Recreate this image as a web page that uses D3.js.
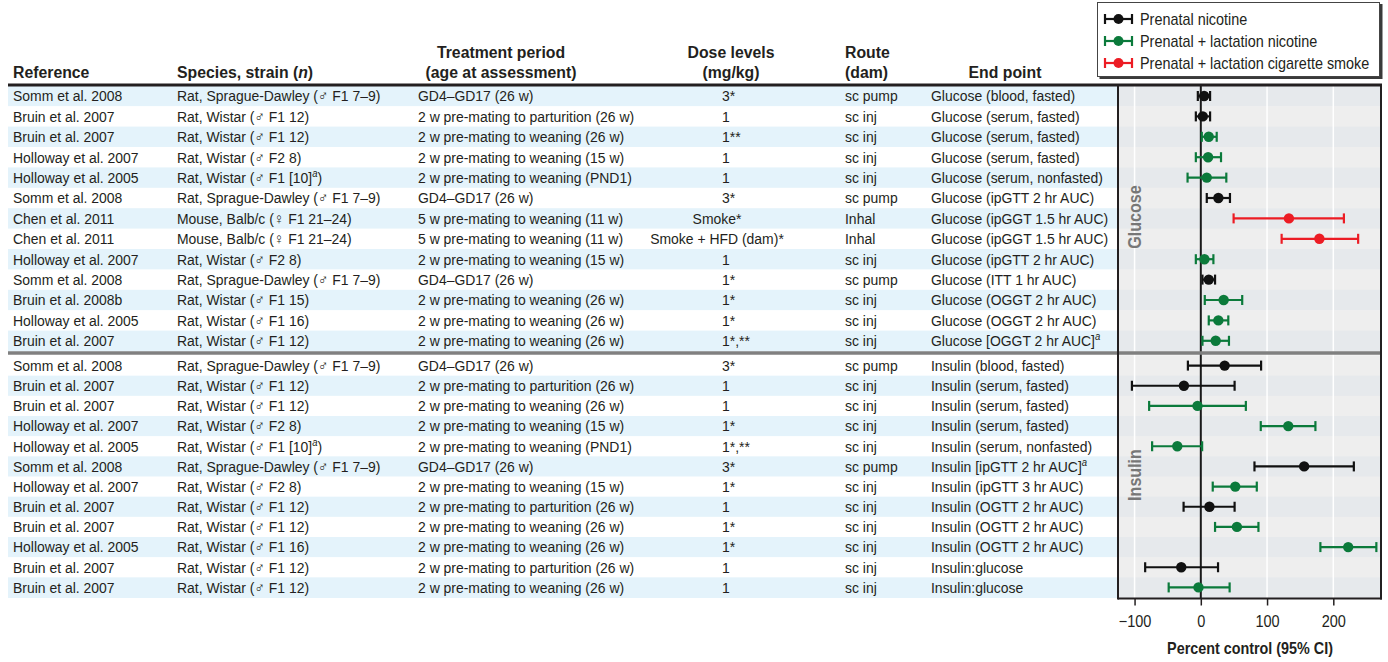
<!DOCTYPE html>
<html>
<head>
<meta charset="utf-8">
<script src="https://cdn.jsdelivr.net/npm/d3@7"></script>
<style>
  html, body { margin: 0; padding: 0; background: #fff; }
  svg { display: block; font-family: "Liberation Sans", Arial, "DejaVu Sans", sans-serif; }
</style>
</head>
<body>
<svg id="chart" width="1388" height="662"></svg>
<script>
// ---- Study table (13 glucose rows followed by 12 insulin rows) ----
const references = [
  "Somm et al. 2008", "Bruin et al. 2007", "Bruin et al. 2007", "Holloway et al. 2007", "Holloway et al. 2005",
  "Somm et al. 2008", "Chen et al. 2011", "Chen et al. 2011", "Holloway et al. 2007", "Somm et al. 2008",
  "Bruin et al. 2008b", "Holloway et al. 2005", "Bruin et al. 2007",
  "Somm et al. 2008", "Bruin et al. 2007", "Bruin et al. 2007", "Holloway et al. 2007", "Holloway et al. 2005",
  "Somm et al. 2008", "Holloway et al. 2007", "Bruin et al. 2007", "Bruin et al. 2007", "Holloway et al. 2005",
  "Bruin et al. 2007", "Bruin et al. 2007"
];
const species = [
  "Rat, Sprague-Dawley (♂ F1 7–9)", "Rat, Wistar (♂ F1 12)", "Rat, Wistar (♂ F1 12)", "Rat, Wistar (♂ F2 8)",
  "Rat, Wistar (♂ F1 [10]^a)", "Rat, Sprague-Dawley (♂ F1 7–9)", "Mouse, Balb/c (♀ F1 21–24)",
  "Mouse, Balb/c (♀ F1 21–24)", "Rat, Wistar (♂ F2 8)", "Rat, Sprague-Dawley (♂ F1 7–9)",
  "Rat, Wistar (♂ F1 15)", "Rat, Wistar (♂ F1 16)", "Rat, Wistar (♂ F1 12)",
  "Rat, Sprague-Dawley (♂ F1 7–9)", "Rat, Wistar (♂ F1 12)", "Rat, Wistar (♂ F1 12)", "Rat, Wistar (♂ F2 8)",
  "Rat, Wistar (♂ F1 [10]^a)", "Rat, Sprague-Dawley (♂ F1 7–9)", "Rat, Wistar (♂ F2 8)",
  "Rat, Wistar (♂ F1 12)", "Rat, Wistar (♂ F1 12)", "Rat, Wistar (♂ F1 16)", "Rat, Wistar (♂ F1 12)",
  "Rat, Wistar (♂ F1 12)"
];
const periods = [
  "GD4–GD17 (26 w)", "2 w pre-mating to parturition (26 w)", "2 w pre-mating to weaning (26 w)",
  "2 w pre-mating to weaning (15 w)", "2 w pre-mating to weaning (PND1)", "GD4–GD17 (26 w)",
  "5 w pre-mating to weaning (11 w)", "5 w pre-mating to weaning (11 w)", "2 w pre-mating to weaning (15 w)",
  "GD4–GD17 (26 w)", "2 w pre-mating to weaning (26 w)", "2 w pre-mating to weaning (26 w)",
  "2 w pre-mating to weaning (26 w)",
  "GD4–GD17 (26 w)", "2 w pre-mating to parturition (26 w)", "2 w pre-mating to weaning (26 w)",
  "2 w pre-mating to weaning (15 w)", "2 w pre-mating to weaning (PND1)", "GD4–GD17 (26 w)",
  "2 w pre-mating to weaning (15 w)", "2 w pre-mating to parturition (26 w)", "2 w pre-mating to weaning (26 w)",
  "2 w pre-mating to weaning (26 w)", "2 w pre-mating to parturition (26 w)", "2 w pre-mating to weaning (26 w)"
];
const doses = [
  "3*", "1", "1**", "1", "1", "3*", "Smoke*", "Smoke + HFD (dam)*", "1", "1*", "1*", "1*", "1*,**",
  "3*", "1", "1", "1*", "1*,**", "3*", "1*", "1", "1*", "1*", "1", "1"
];
const routes = [
  "sc pump", "sc inj", "sc inj", "sc inj", "sc inj", "sc pump", "Inhal", "Inhal", "sc inj", "sc pump",
  "sc inj", "sc inj", "sc inj",
  "sc pump", "sc inj", "sc inj", "sc inj", "sc inj", "sc pump", "sc inj", "sc inj", "sc inj", "sc inj",
  "sc inj", "sc inj"
];
const endpoints = [
  "Glucose (blood, fasted)", "Glucose (serum, fasted)", "Glucose (serum, fasted)", "Glucose (serum, fasted)",
  "Glucose (serum, nonfasted)", "Glucose (ipGTT 2 hr AUC)", "Glucose (ipGGT 1.5 hr AUC)",
  "Glucose (ipGGT 1.5 hr AUC)", "Glucose (ipGTT 2 hr AUC)", "Glucose (ITT 1 hr AUC)",
  "Glucose (OGGT 2 hr AUC)", "Glucose (OGGT 2 hr AUC)", "Glucose [OGGT 2 hr AUC]^a",
  "Insulin (blood, fasted)", "Insulin (serum, fasted)", "Insulin (serum, fasted)", "Insulin (serum, fasted)",
  "Insulin (serum, nonfasted)", "Insulin [ipGTT 2 hr AUC]^a", "Insulin (ipGTT 3 hr AUC)",
  "Insulin (OGTT 2 hr AUC)", "Insulin (OGTT 2 hr AUC)", "Insulin (OGTT 2 hr AUC)", "Insulin:glucose",
  "Insulin:glucose"
];
// exposure: P = prenatal nicotine, L = prenatal + lactation nicotine, S = prenatal + lactation smoke
const exposures = [
  "P", "P", "L", "L", "L", "P", "S", "S", "L", "P", "L", "L", "L",
  "P", "P", "L", "L", "L", "P", "L", "P", "L", "L", "P", "L"
];
// ---- Percent of control with 95% CI ----
const estimates = [
  5, 3, 12, 11, 9, 26.5, 133, 179, 5.5, 12, 34.5, 26.5, 22.5,
  36, -25.5, -5, 132, -35.5, 156, 52, 13, 54.5, 222.5, -29.5, -3.5
];
const ciLow = [
  -4.5, -7.5, 1.5, -7.5, -20, 9, 49.5, 122, -7.5, 2.5, 6, 12, 2.5,
  -19.5, -104, -78, 90.5, -73.5, 81, 18, -26, 21.5, 180.5, -84, -48.5
];
const ciHigh = [
  14, 14, 24, 30.5, 38.5, 44, 216, 237.5, 19, 21.5, 62.5, 41.5, 42.5,
  91, 51, 68, 173, 2, 231, 84.5, 51, 87, 265, 26, 43.5
];
const groups = ["Glucose", "Insulin"];
const groupSizes = [13, 12];
const xTicks = [-100, 0, 100, 200];
const legendLabels = ["Prenatal nicotine", "Prenatal + lactation nicotine", "Prenatal + lactation cigarette smoke"];
const legendKeys = ["P", "L", "S"];

// ---- Styling ----
const colors = { P: "#111111", L: "#0b7a3b", S: "#ec1c24" };
const ink = "#231f20";
const SX = 0.9;            // horizontal squeeze for the narrow type
const BODY = 15.5;

const svg = d3.select("#chart");

// Text with simple markup: ^a -> italic superscript, ~x~ -> italic
function richText(parent, x, y, str, o = {}) {
  const size = o.size || BODY;
  const t = parent.append("text")
    .attr("transform", `translate(${x},${y}) scale(${o.sx || SX},1)`)
    .attr("text-anchor", o.anchor || "start")
    .attr("fill", o.fill || ink)
    .style("font-size", size + "px")
    .style("font-weight", o.weight || 400);
  const parts = str.split(/(\^[a-z]|~[^~]+~)/).filter(s => s.length);
  let raised = false;
  parts.forEach(p => {
    if (p[0] === "^") {
      t.append("tspan").attr("dy", -size * 0.38).style("font-size", (size * 0.68) + "px")
        .style("font-style", "italic").text(p.slice(1));
      raised = true;
    } else {
      const sp = t.append("tspan");
      if (raised) { sp.attr("dy", size * 0.38); raised = false; }
      if (p[0] === "~") sp.style("font-style", "italic").text(p.slice(1, -1));
      else sp.text(p);
    }
  });
  return t;
}

// ---- Geometry ----
const tableLeft = 8, panelLeft = 1118, panelRight = 1381;
const x = d3.scaleLinear().domain([-125, 272]).range([panelLeft, panelRight]);
const bandScales = [
  d3.scaleBand().domain(d3.range(groupSizes[0])).range([85.8, 351]),
  d3.scaleBand().domain(d3.range(groupSizes[1])).range([355.5, 597.5])
];
const panelTop = 85.8, panelBottom = 598.5;

const rows = references.map((r, i) => {
  const g = i < groupSizes[0] ? 0 : 1;
  const k = g === 0 ? i : i - groupSizes[0];
  const band = bandScales[g];
  return {
    i, g, ref: r, species: species[i], period: periods[i], dose: doses[i], route: routes[i],
    endpoint: endpoints[i], exp: exposures[i], est: estimates[i], lo: ciLow[i], hi: ciHigh[i],
    y0: band(k), h: band.bandwidth(), cy: band(k) + band.bandwidth() / 2
  };
});

// ---- Row bands ----
svg.append("g").selectAll("rect").data(rows).join("rect")
  .attr("x", tableLeft).attr("width", panelLeft - tableLeft)
  .attr("y", d => d.y0).attr("height", d => d.h + 0.5)
  .attr("fill", d => d.i % 2 === 0 ? "#e4f3fb" : "#ffffff");
svg.append("g").selectAll("rect").data(rows).join("rect")
  .attr("x", panelLeft).attr("width", panelRight - panelLeft)
  .attr("y", d => d.y0).attr("height", d => d.h + 0.5)
  .attr("fill", d => d.i % 2 === 0 ? "#e6e9ec" : "#eeeeee");
// gap under the separator
svg.append("rect").attr("x", panelLeft).attr("width", panelRight - panelLeft)
  .attr("y", 351).attr("height", 4.5).attr("fill", "#eeeeee");

// ---- Grid lines ----
svg.append("g").selectAll("line").data(xTicks.filter(v => v !== 0)).join("line")
  .attr("x1", d => x(d)).attr("x2", d => x(d))
  .attr("y1", panelTop).attr("y2", panelBottom)
  .attr("stroke", "#ffffff").attr("stroke-width", 1.5);

// ---- Group labels in the panel ----
groups.forEach((name, g) => {
  const cy = g === 0 ? 217 : 475;
  svg.append("text")
    .attr("transform", `translate(1141,${cy}) rotate(-90) scale(0.92,1)`)
    .attr("text-anchor", "middle")
    .attr("fill", "#777777")
    .style("font-size", "17.5px").style("font-weight", 700)
    .text(name);
});

// ---- Zero line ----
svg.append("line")
  .attr("x1", x(0)).attr("x2", x(0)).attr("y1", panelTop).attr("y2", panelBottom)
  .attr("stroke", "#1a1a1a").attr("stroke-width", 2);

// ---- Error bars and points ----
const marks = svg.append("g").selectAll("g").data(rows).join("g")
  .attr("stroke", d => colors[d.exp]).attr("fill", d => colors[d.exp]);
marks.append("line")
  .attr("x1", d => x(d.lo)).attr("x2", d => x(d.hi))
  .attr("y1", d => d.cy).attr("y2", d => d.cy).attr("stroke-width", 2.2);
marks.append("line")
  .attr("x1", d => x(d.lo)).attr("x2", d => x(d.lo))
  .attr("y1", d => d.cy - 5).attr("y2", d => d.cy + 5).attr("stroke-width", 2.2);
marks.append("line")
  .attr("x1", d => x(d.hi)).attr("x2", d => x(d.hi))
  .attr("y1", d => d.cy - 5).attr("y2", d => d.cy + 5).attr("stroke-width", 2.2);
marks.append("circle")
  .attr("cx", d => x(d.est)).attr("cy", d => d.cy).attr("r", 5.2).attr("stroke", "none");

// ---- Table text ----
const tbl = svg.append("g");
rows.forEach(d => {
  const by = d.cy + 5.3;
  richText(tbl, 13, by, d.ref);
  richText(tbl, 177, by, d.species);
  richText(tbl, 418, by, d.period);
  if (/^\d/.test(d.dose)) richText(tbl, 722, by, d.dose);
  else richText(tbl, 717, by, d.dose, { anchor: "middle" });
  richText(tbl, 845, by, d.route);
  richText(tbl, 931, by, d.endpoint);
});

// ---- Header ----
const hd = { size: 17, weight: 700, sx: 0.93 };
richText(svg, 13, 78, "Reference", hd);
richText(svg, 177, 78, "Species, strain (~n~)", hd);
richText(svg, 501, 58, "Treatment period", { ...hd, anchor: "middle" });
richText(svg, 501, 78, "(age at assessment)", { ...hd, anchor: "middle" });
richText(svg, 731, 58, "Dose levels", { ...hd, anchor: "middle" });
richText(svg, 731, 78, "(mg/kg)", { ...hd, anchor: "middle" });
richText(svg, 845, 58, "Route", hd);
richText(svg, 845, 78, "(dam)", hd);
richText(svg, 1005, 78, "End point", { ...hd, anchor: "middle" });

// ---- Rules and panel frame ----
svg.append("line").attr("x1", tableLeft).attr("x2", panelRight + 1)
  .attr("y1", 85).attr("y2", 85).attr("stroke", ink).attr("stroke-width", 3);
svg.append("line").attr("x1", tableLeft).attr("x2", panelRight + 1)
  .attr("y1", 353).attr("y2", 353).attr("stroke", "#808080").attr("stroke-width", 3.5);
svg.append("line").attr("x1", panelLeft).attr("x2", panelLeft)
  .attr("y1", 84).attr("y2", panelBottom + 1).attr("stroke", ink).attr("stroke-width", 2);
svg.append("line").attr("x1", panelRight).attr("x2", panelRight)
  .attr("y1", 84).attr("y2", panelBottom + 1).attr("stroke", ink).attr("stroke-width", 2);
svg.append("line").attr("x1", panelLeft).attr("x2", panelRight + 1)
  .attr("y1", panelBottom).attr("y2", panelBottom).attr("stroke", ink).attr("stroke-width", 2);

// ---- X axis ----
const axis = svg.append("g").attr("transform", `translate(0,${panelBottom})`)
  .call(d3.axisBottom(x).tickValues(xTicks).tickSize(7).tickPadding(10)
    .tickFormat(v => v < 0 ? "\u2212" + Math.abs(v) : String(v)));
axis.select(".domain").remove();
axis.selectAll(".tick line").attr("stroke", ink).attr("stroke-width", 1.5);
axis.selectAll(".tick text")
  .attr("fill", ink)
  .attr("transform", "scale(0.88,1)")
  .style("font-size", "16.5px")
  .style("font-family", "'Liberation Sans', Arial, sans-serif");
richText(svg, 1250, 654, "Percent control (95% CI)", { size: 16.5, weight: 700, sx: 0.87, anchor: "middle" });

// ---- Legend ----
const lg = svg.append("g");
lg.append("rect").attr("x", 1099.5).attr("y", 4).attr("width", 283).attr("height", 75).attr("fill", "#3a3a3a");
lg.append("rect").attr("x", 1097.5).attr("y", 2.5).attr("width", 282).attr("height", 74)
  .attr("fill", "#ffffff").attr("stroke", "#444").attr("stroke-width", 1);
legendKeys.forEach((k, j) => {
  const cy = 19 + j * 22;
  const c = colors[k];
  const s = lg.append("g").attr("stroke", c).attr("fill", c);
  s.append("line").attr("x1", 1105).attr("x2", 1132).attr("y1", cy).attr("y2", cy).attr("stroke-width", 2.2);
  s.append("line").attr("x1", 1105).attr("x2", 1105).attr("y1", cy - 5).attr("y2", cy + 5).attr("stroke-width", 2.2);
  s.append("line").attr("x1", 1132).attr("x2", 1132).attr("y1", cy - 5).attr("y2", cy + 5).attr("stroke-width", 2.2);
  s.append("circle").attr("cx", 1118.5).attr("cy", cy).attr("r", 5).attr("stroke", "none");
  richText(lg, 1140, cy + 5.5, legendLabels[j], { size: 16, sx: 0.9 });
});
</script>
</body>
</html>
